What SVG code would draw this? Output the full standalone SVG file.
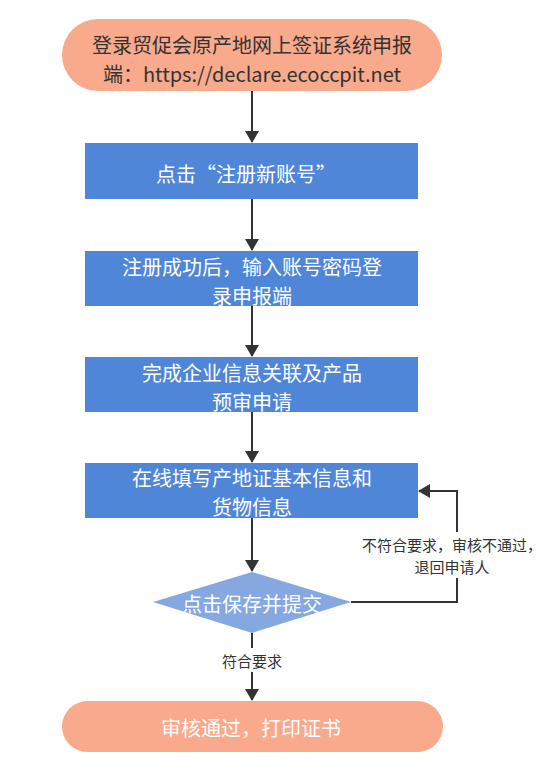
<svg xmlns="http://www.w3.org/2000/svg" width="551" height="781" viewBox="0 0 551 781">
<style>
text{font-family:"Noto Sans CJK SC","Noto Sans",sans-serif;text-anchor:middle;dominant-baseline:central}
.t{font-size:20px}
.w{fill:#ffffff}
.d{fill:#333333}
.l{font-size:15px;fill:#333333}
.box{fill:#4F86D8}
.pill{fill:#F9A98C}
.c{stroke:#333333;stroke-width:2;fill:none}
</style>
<defs>
<marker id="ah" markerWidth="12" markerHeight="14" refX="11" refY="7" orient="auto" markerUnits="userSpaceOnUse">
<path d="M0,0 L12,7 L0,14 Z" fill="#333333"/>
</marker>
</defs>
<rect width="551" height="781" fill="#ffffff"/>
<g id="connectors">
<line class="c" x1="252" y1="91" x2="252" y2="142" marker-end="url(#ah)"/>
<line class="c" x1="252" y1="199" x2="252" y2="250" marker-end="url(#ah)"/>
<line class="c" x1="252" y1="306" x2="252" y2="356" marker-end="url(#ah)"/>
<line class="c" x1="252" y1="412" x2="252" y2="462" marker-end="url(#ah)"/>
<line class="c" x1="252" y1="518" x2="252" y2="571" marker-end="url(#ah)"/>
<line class="c" x1="252" y1="633" x2="252" y2="700" marker-end="url(#ah)"/>
<polyline class="c" points="351,602 457,602 457,491 419,491" marker-end="url(#ah)"/>
<rect x="216" y="648" width="72" height="24" fill="#ffffff"/>
<text class="l" x="252" y="660">符合要求</text>
<rect x="360" y="532" width="184" height="46" fill="#ffffff"/>
<text class="l" x="452" y="544">不符合要求，审核不通过，</text>
<text class="l" x="452" y="566">退回申请人</text>
</g>
<g id="start">
<rect class="pill" x="62" y="19" width="380" height="72" rx="36"/>
<text class="t d" x="252" y="44">登录贸促会原产地网上签证系统申报</text>
<text class="t d" x="252" y="73">端：https://declare.ecoccpit.net</text>
</g>
<g id="register">
<rect class="box" x="85" y="143" width="333" height="56"/>
<text class="t w" x="246" y="173">点击“注册新账号”</text>
</g>
<g id="login">
<rect class="box" x="85" y="251" width="333" height="55"/>
<text class="t w" x="252" y="266">注册成功后，输入账号密码登</text>
<text class="t w" x="252" y="295">录申报端</text>
</g>
<g id="link">
<rect class="box" x="85" y="357" width="333" height="55"/>
<text class="t w" x="252" y="372">完成企业信息关联及产品</text>
<text class="t w" x="252" y="401">预审申请</text>
</g>
<g id="fill">
<rect class="box" x="85" y="463" width="333" height="55"/>
<text class="t w" x="252" y="477">在线填写产地证基本信息和</text>
<text class="t w" x="252" y="506">货物信息</text>
</g>
<g id="submit">
<polygon points="252,572 351,602 252,633 153,602" fill="#85A8E1"/>
<text class="t w" x="252" y="603">点击保存并提交</text>
</g>
<g id="end">
<rect class="pill" x="62" y="701" width="381" height="51" rx="25.5"/>
<text class="t w" x="251" y="727">审核通过，打印证书</text>
</g>
</svg>
